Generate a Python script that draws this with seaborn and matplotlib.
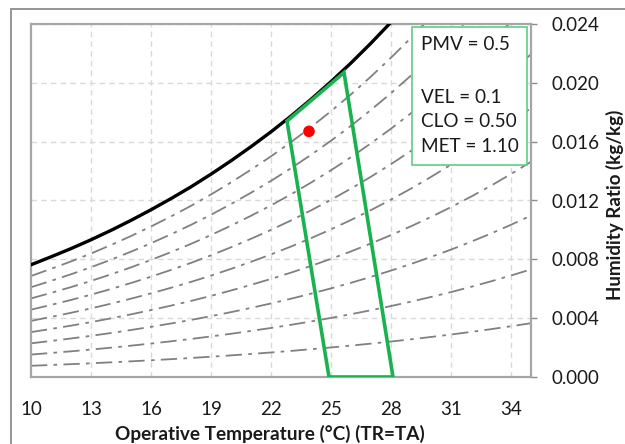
import numpy as np
import pandas as pd
import matplotlib
matplotlib.use("Agg")
import matplotlib.pyplot as plt
from matplotlib.patches import Rectangle
import seaborn as sns

# Saturation humidity ratio (kg/kg) at sea-level pressure, by dry-bulb temperature (°C)
sat_temp = [10, 11, 12, 13, 14, 15, 16, 17, 18, 19, 20, 21, 22, 23, 24, 25,
            26, 27, 28, 29, 30, 31, 32, 33, 34, 35]
sat_ratio = [0.00763, 0.00817, 0.00873, 0.00933, 0.00997, 0.01065, 0.01137,
             0.01213, 0.01293, 0.01379, 0.01470, 0.01566, 0.01667, 0.01774,
             0.01888, 0.02008, 0.02135, 0.02270, 0.02412, 0.02562, 0.02721,
             0.02887, 0.03065, 0.03252, 0.03450, 0.03658]

# Relative-humidity guide curves
rh_levels = [0.1, 0.2, 0.3, 0.4, 0.5, 0.6, 0.7, 0.8, 0.9]

# Comfort zone boundary (PMV = ±0.5) as operative temperature / humidity ratio
zone_temp = [24.9, 28.1, 25.65, 22.8, 24.9]
zone_ratio = [0.0, 0.0, 0.0207, 0.0174, 0.0]

# Current condition
point_temp = [23.9]
point_ratio = [0.0167]

x_ticks = [10, 13, 16, 19, 22, 25, 28, 31, 34]
y_ticks = [0.000, 0.004, 0.008, 0.012, 0.016, 0.020, 0.024]
info_lines = ["PMV = 0.5", "VEL = 0.1", "CLO = 0.50", "MET = 1.10"]

sns.set_theme(style="white")
plt.rcParams["font.family"] = ["Lato", "DejaVu Sans"]

W, H = 625, 444
fig = plt.figure(figsize=(W / 100, H / 100), dpi=100)
ax = fig.add_axes([31 / W, 1 - 377 / H, 500 / W, 353 / H])

sat_df = pd.DataFrame({"temp": sat_temp, "ratio": sat_ratio})
rh_df = pd.concat(
    [pd.DataFrame({"temp": sat_temp, "ratio": np.array(sat_ratio) * rh, "rh": rh})
     for rh in rh_levels],
    ignore_index=True,
)

grid_kw = dict(color="#d9d9d9", lw=1.0, ls=(0, (4, 3)), zorder=0)
for xv in x_ticks[1:]:
    ax.axvline(xv, **grid_kw)
for yv in y_ticks[1:]:
    ax.axhline(yv, **grid_kw)

for rh, sub in rh_df.groupby("rh"):
    sns.lineplot(data=sub, x="temp", y="ratio", ax=ax, color="#808080",
                 lw=1.3, linestyle=(0, (9, 3.5, 2, 3.5)), zorder=2)

sns.lineplot(data=sat_df, x="temp", y="ratio", ax=ax, color="black", lw=2.4,
             zorder=3)

ax.plot(zone_temp, zone_ratio, color="#19b24f", lw=2.6, zorder=4,
        solid_joinstyle="miter")

sns.scatterplot(x=point_temp, y=point_ratio, ax=ax, color="#ff0000", s=70,
                edgecolor="none", zorder=5)

ax.set_xlim(10, 35)
ax.set_ylim(0, 0.024)
ax.set_xticks(x_ticks)
ax.set_yticks(y_ticks)
ax.set_yticklabels([f"{v:.3f}" for v in y_ticks])
ax.yaxis.tick_right()
ax.set_xlabel("")
ax.set_ylabel("")
ax.tick_params(axis="both", labelsize=13.5, colors="#8c8c8c", labelcolor="#1a1a1a",
               length=4, width=1, direction="out")
ax.tick_params(axis="x", pad=13)
ax.tick_params(axis="y", pad=11)
for s in ax.spines.values():
    s.set_color("#a6a6a6")
    s.set_linewidth(1.6)

# Info box
ax.add_patch(Rectangle((0.762, 0.6006), 0.23, 0.391, transform=ax.transAxes,
                       facecolor="white", edgecolor="#5ccf84", lw=1.2, zorder=6))
for txt, yy in zip(info_lines, [0.943, 0.793, 0.725, 0.654]):
    ax.text(0.780, yy, txt, transform=ax.transAxes, fontsize=13.6,
            va="center", ha="left", color="#1a1a1a", zorder=7)

fig.text(270 / W, 1 - 434 / H, "Operative Temperature (°C) (TR=TA)",
         fontsize=13.7, fontweight="bold", ha="center", va="center",
         color="#1a1a1a")
fig.text(615 / W, 1 - 205 / H, "Humidity Ratio (kg/kg)", rotation=90,
         fontsize=13.5, fontweight="bold", ha="center", va="center",
         color="#1a1a1a")

# Outer chart frame
fig.add_artist(Rectangle((11 / W, -0.1), 1.2, 1.1 - 9 / H,
                         transform=fig.transFigure, fill=False,
                         edgecolor="#8c8c8c", lw=1.3))

fig.savefig("out.png", dpi=100)
